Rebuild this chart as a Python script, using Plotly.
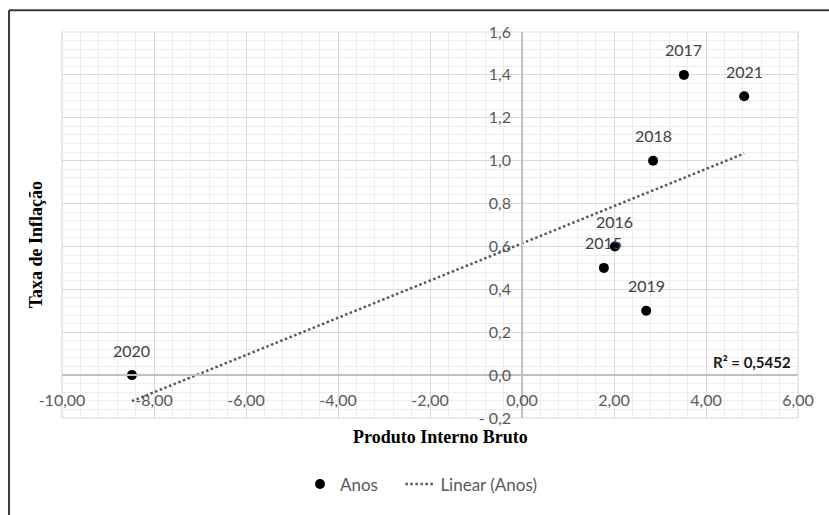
import numpy as np
import plotly.graph_objects as go

# Dados: PIB (%) x taxa de inflação por ano
anos = ["2015", "2016", "2017", "2018", "2019", "2020", "2021"]
pib = [1.78, 2.02, 3.52, 2.85, 2.70, -8.48, 4.83]
inflacao = [0.5, 0.6, 1.4, 1.0, 0.3, 0.0, 1.3]

x_ticks = [-10, -8, -6, -4, -2, 0, 2, 4, 6]
x_labels = ["-10,00", "-8,00", "-6,00", "-4,00", "-2,00", "0,00", "2,00", "4,00", "6,00"]
y_ticks = [-0.2, 0.0, 0.2, 0.4, 0.6, 0.8, 1.0, 1.2, 1.4, 1.6]
y_labels = ["- 0,2", "0,0", "0,2", "0,4", "0,6", "0,8", "1,0", "1,2", "1,4", "1,6"]
r2_text = "R² = 0,5452"

W, H = 829, 515
ML, MR, MT, MB = 62, 31, 32, 94
X_RANGE = [-10, 6]
Y_RANGE = [-0.2, 1.6]

# linear trend (least squares)
slope, intercept = np.polyfit(pib, inflacao, 1)
tx = np.array([min(pib), max(pib)])
ty = slope * tx + intercept

TICK_FONT = dict(family="Lato, Open Sans, sans-serif", size=16, color="#595959")
GRID = "#d9d9d9"
MINOR = "#ededed"
AXIS = "#bfbfbf"
NBSP = "\u00a0"


def px_to_paper_x(px):
    return (px - ML) / (W - ML - MR)


def px_to_paper_y(py):
    return (H - MB - py) / (H - MT - MB)


fig = go.Figure()

fig.add_trace(go.Scatter(
    x=pib, y=inflacao, mode="markers", name="Anos" + NBSP * 4,
    marker=dict(color="#000000", size=10),
))
fig.add_trace(go.Scatter(
    x=tx, y=ty, mode="lines", name="Linear (Anos)",
    line=dict(color="#595959", width=2.5, dash="2.5px,2.5px"),
))

# year labels above each point
for a, xv, yv in zip(anos, pib, inflacao):
    fig.add_annotation(
        x=xv, y=yv, text=a, showarrow=False, yshift=25,
        font=dict(family="Lato, Open Sans, sans-serif", size=16, color="#404040"),
    )

fig.add_annotation(
    x=5.9, y=0.06, xref="x", yref="y", text="<b>" + r2_text + "</b>",
    showarrow=False, xanchor="right", yanchor="middle",
    font=dict(family="Lato, Open Sans, sans-serif", size=15, color="#1a1a1a"),
)

# axis titles
fig.add_annotation(
    x=px_to_paper_x(440), y=px_to_paper_y(440), xref="paper", yref="paper",
    xanchor="center", yanchor="middle",
    text="<b>Produto Interno Bruto</b>", showarrow=False,
    font=dict(family="Liberation Serif, Times New Roman, serif", size=18, color="#000000"),
)
fig.add_annotation(
    x=px_to_paper_x(36), y=px_to_paper_y(247), xref="paper", yref="paper",
    xanchor="center", yanchor="middle",
    text="<b>Taxa de Inflação</b>", showarrow=False, textangle=-90,
    font=dict(family="Liberation Serif, Times New Roman, serif", size=18, color="#000000"),
)

# plot-area outline and outer chart frame
fig.add_shape(type="rect", xref="paper", yref="paper", x0=0, y0=0, x1=1, y1=1,
              line=dict(color=GRID, width=1.2), layer="below")
fx0, fy0 = px_to_paper_x(9), px_to_paper_y(10)
fig.add_shape(type="line", xref="paper", yref="paper",
              x0=fx0, y0=fy0, x1=px_to_paper_x(W + 5), y1=fy0,
              line=dict(color="#3a3a3a", width=2))
fig.add_shape(type="line", xref="paper", yref="paper",
              x0=fx0, y0=fy0, x1=fx0, y1=px_to_paper_y(H + 5),
              line=dict(color="#3a3a3a", width=2))

fig.update_layout(
    width=W, height=H,
    margin=dict(l=ML, r=MR, t=MT, b=MB, pad=0),
    paper_bgcolor="white", plot_bgcolor="white",
    showlegend=True,
    legend=dict(
        orientation="h", x=px_to_paper_x(300), xanchor="left",
        y=px_to_paper_y(488), yanchor="middle",
        font=dict(family="Lato, Open Sans, sans-serif", size=17, color="#595959"),
        bgcolor="rgba(0,0,0,0)",
    ),
    xaxis=dict(
        range=X_RANGE, tickmode="array", tickvals=x_ticks, ticktext=x_labels,
        showgrid=True, gridcolor=GRID, gridwidth=1.2, zeroline=False,
        minor=dict(tickmode="linear", tick0=-10, dtick=0.4, showgrid=True,
                   gridcolor=MINOR, gridwidth=1),
        anchor="free", position=(0 - Y_RANGE[0]) / (Y_RANGE[1] - Y_RANGE[0]),
        showline=True, linecolor=AXIS, linewidth=1.5,
        ticks="", ticklabelstandoff=11, tickfont=TICK_FONT,
    ),
    yaxis=dict(
        range=Y_RANGE, tickmode="array", tickvals=y_ticks, ticktext=y_labels,
        showgrid=True, gridcolor=GRID, gridwidth=1.2, zeroline=False,
        minor=dict(tickmode="linear", tick0=-0.2, dtick=0.04, showgrid=True,
                   gridcolor=MINOR, gridwidth=1),
        anchor="free", position=(0 - X_RANGE[0]) / (X_RANGE[1] - X_RANGE[0]),
        showline=True, linecolor=AXIS, linewidth=1.5,
        ticks="", ticklabelstandoff=7, tickfont=TICK_FONT,
    ),
)

fig.write_html("out.html")
